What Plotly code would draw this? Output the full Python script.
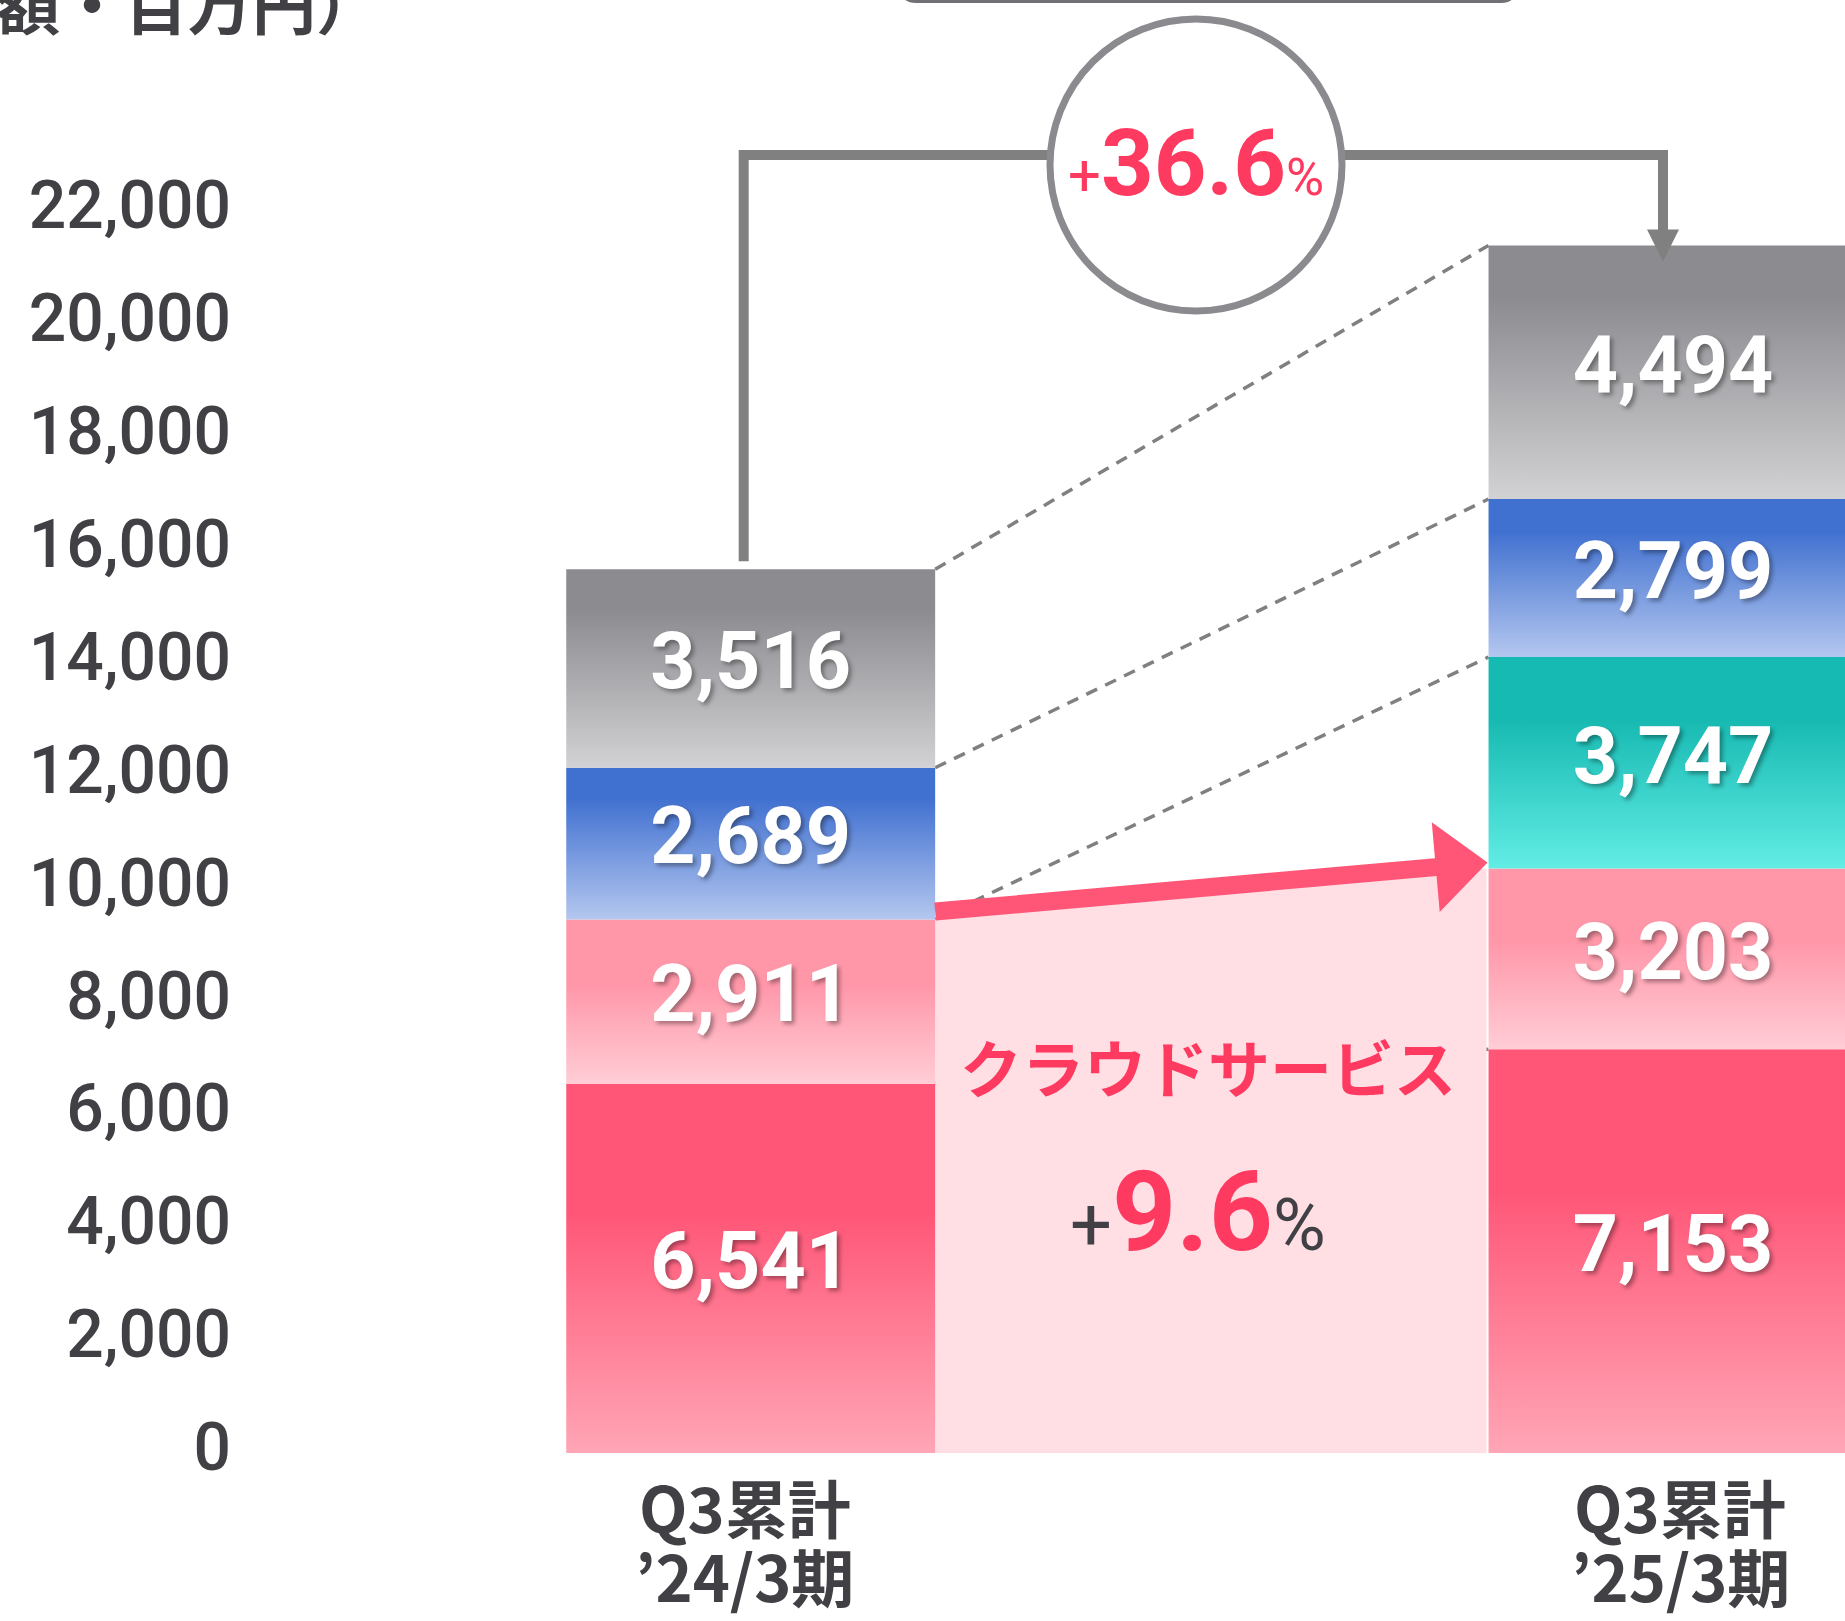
import plotly.graph_objects as go

# ---- data (millions of yen) ----
categories = ["Q3累計<br>’24/3期", "Q3累計<br>’25/3期"]
cloud_main = [6541, 7153]
cloud_sub = [2911, 3203]
teal_seg = [0, 3747]
blue_seg = [2689, 2799]
gray_seg = [3516, 4494]
y_ticks = list(range(0, 22001, 2000))
total_growth = "36.6"
cloud_growth = "9.6"

# ---- layout constants (pixels) ----
W, H = 1845, 1621
X_PX0, X_PX_PER = 750.7, 922.3     # pixel of x=0, px per x unit
Y_PX0, Y_PX_PER = 1453.0, 0.05644  # pixel of y=0, px per y unit
MARGIN_L = 232
BAR_W = 0.4
LABEL_DX = [-6, 7]                  # category label offset from bar centre
DARK = "#404045"
RED = "#FF3A60"
LINE_GRAY = "#808080"


def to_x(px):
    return (px - X_PX0) / X_PX_PER


def to_y(py):
    return (Y_PX0 - py) / Y_PX_PER


def px_x(x):
    return X_PX0 + x * X_PX_PER


def px_y(y):
    return Y_PX0 - y * Y_PX_PER


stack = [
    ("cloud_main", cloud_main, [[0, "#FFA6B6"], [0.65, "#FF5677"], [1, "#FF5677"]]),
    ("cloud_sub", cloud_sub, [[0, "#FFCDD6"], [0.6, "#FF97A9"], [1, "#FF97A9"]]),
    ("teal", teal_seg, [[0, "#62EDE5"], [0.7, "#17BAB2"], [1, "#17BAB2"]]),
    ("blue", blue_seg, [[0, "#B4C7EF"], [0.8, "#4070D0"], [1, "#4070D0"]]),
    ("gray", gray_seg, [[0, "#D2D2D4"], [0.8, "#8B8B90"], [1, "#8B8B90"]]),
]

# cumulative tops per bar
tops = {}
for i in range(len(categories)):
    acc = 0
    for name, vals, _ in stack:
        acc += vals[i]
        tops[(name, i)] = acc
left_total = tops[("gray", 0)]
right_total = tops[("gray", 1)]
left_cloud = tops[("cloud_sub", 0)]
right_cloud = tops[("cloud_sub", 1)]

fig = go.Figure()

# dashed connectors between matching segment boundaries
for name, _, _ in stack:
    if name == "cloud_sub":
        continue
    fig.add_trace(go.Scatter(
        x=[BAR_W / 2, 1 - BAR_W / 2], y=[tops[(name, 0)], tops[(name, 1)]],
        mode="lines", line=dict(color=LINE_GRAY, width=3.5, dash="12px,9px"),
        hoverinfo="skip", showlegend=False,
    ))

# light pink band for cloud services
gap = 2 / X_PX_PER
fig.add_trace(go.Scatter(
    x=[BAR_W / 2, BAR_W / 2, 1 - BAR_W / 2 - gap, 1 - BAR_W / 2 - gap, BAR_W / 2],
    y=[0, left_cloud, right_cloud, 0, 0],
    mode="lines", fill="toself", fillcolor="#FFDEE4", line=dict(width=0),
    hoverinfo="skip", showlegend=False,
))

# stacked bars with vertical gradients
for i in range(len(categories)):
    base = 0
    for name, vals, cs in stack:
        v = vals[i]
        if v > 0:
            x0, x1 = i - BAR_W / 2, i + BAR_W / 2
            fig.add_trace(go.Scatter(
                x=[x0, x1, x1, x0, x0], y=[base, base, base + v, base + v, base],
                mode="lines", fill="toself", line=dict(width=0),
                fillgradient=dict(type="vertical", colorscale=cs, start=base, stop=base + v),
                hoverinfo="skip", showlegend=False,
            ))
        base += v

# segment value labels
lab_x, lab_y, lab_t = [], [], []
for i in range(len(categories)):
    base = 0
    for name, vals, _ in stack:
        v = vals[i]
        if v > 0:
            lab_x.append(i)
            lab_y.append(base + v / 2)
            lab_t.append(f"{v:,}")
        base += v
fig.add_trace(go.Scatter(
    x=lab_x, y=lab_y, text=lab_t, mode="text", textposition="middle center",
    textfont=dict(family="Roboto", size=79, color="white", weight="bold",
                  shadow="3px 3px 4px rgba(0,0,0,0.35)"),
    hoverinfo="skip", showlegend=False,
))

# red growth arrow (cloud services), built in pixel space
p0 = (px_x(BAR_W / 2), px_y(left_cloud) - 8)
p1 = (px_x(1 - BAR_W / 2) - 1, px_y(right_cloud) - 6)
ln = ((p1[0] - p0[0]) ** 2 + (p1[1] - p0[1]) ** 2) ** 0.5
d = ((p1[0] - p0[0]) / ln, (p1[1] - p0[1]) / ln)
n = (-d[1], d[0])
b = (p1[0] - 52 * d[0], p1[1] - 52 * d[1])
pts = [
    (p0[0] + 9 * n[0], p0[1] + 9 * n[1]),
    (b[0] + 9 * n[0], b[1] + 9 * n[1]),
    (b[0] + 45 * n[0], b[1] + 45 * n[1]),
    p1,
    (b[0] - 45 * n[0], b[1] - 45 * n[1]),
    (b[0] - 9 * n[0], b[1] - 9 * n[1]),
    (p0[0] - 9 * n[0], p0[1] - 9 * n[1]),
]
pts.append(pts[0])
fig.add_trace(go.Scatter(
    x=[to_x(p[0]) for p in pts], y=[to_y(p[1]) for p in pts],
    mode="lines", fill="toself", fillcolor="#FF5577", line=dict(width=0),
    hoverinfo="skip", showlegend=False,
))

# total growth bracket
bl_x = px_x(0) - 7
br_x = px_x(1) - 10
br_y = 155
fig.add_trace(go.Scatter(
    x=[to_x(bl_x), to_x(bl_x), to_x(br_x), to_x(br_x)],
    y=[to_y(px_y(left_total) - 8), to_y(br_y), to_y(br_y), to_y(232)],
    mode="lines", line=dict(color=LINE_GRAY, width=10),
    hoverinfo="skip", showlegend=False,
))
head_tip = px_y(right_total) + 16
fig.add_trace(go.Scatter(
    x=[to_x(br_x - 16), to_x(br_x + 16), to_x(br_x), to_x(br_x - 16)],
    y=[to_y(head_tip - 32), to_y(head_tip - 32), to_y(head_tip), to_y(head_tip - 32)],
    mode="lines", fill="toself", fillcolor=LINE_GRAY, line=dict(width=0),
    hoverinfo="skip", showlegend=False,
))

# circle badge
cx, cy = to_x(1196), to_y(165)
fig.add_shape(type="circle", xref="x", yref="y", xsizemode="pixel", ysizemode="pixel",
              xanchor=cx, yanchor=cy, x0=-146, x1=146, y0=-146, y1=146,
              line=dict(color="#8A8A8F", width=7), fillcolor="white")

# bottom edge of a box cut off at the top
bx0, bx1, bb, r = 902, 1515, 1.5, 14
fig.add_shape(
    type="path", xref="x", yref="y",
    path=(f"M {to_x(bx0)},{to_y(-40)} L {to_x(bx0)},{to_y(bb - r)} "
          f"Q {to_x(bx0)},{to_y(bb)} {to_x(bx0 + r)},{to_y(bb)} "
          f"L {to_x(bx1 - r)},{to_y(bb)} Q {to_x(bx1)},{to_y(bb)} {to_x(bx1)},{to_y(bb - r)} "
          f"L {to_x(bx1)},{to_y(-40)}"),
    line=dict(color="#707075", width=3),
)

fig.add_annotation(
    x=cx, y=to_y(163), xref="x", yref="y", showarrow=False, xanchor="center", yanchor="middle",
    text=(f'<span style="font-size:58px;font-weight:400">+</span>'
          f'<span style="font-size:92px">{total_growth}</span>'
          f'<span style="font-size:52px;font-weight:400">%</span>'),
    font=dict(family="Roboto", color=RED, weight="bold", size=92),
)
fig.add_annotation(
    x=to_x(1208), y=to_y(1066), xref="x", yref="y", showarrow=False,
    text="クラウドサービス",
    font=dict(family="Noto Sans CJK JP", color=RED, weight="bold", size=62),
)
fig.add_annotation(
    x=to_x(1198), y=to_y(1211), xref="x", yref="y", showarrow=False,
    text=(f'<span style="font-size:74px;font-weight:400;fill:{DARK}">+</span>'
          f'<span style="font-size:112px">{cloud_growth}</span>'
          f'<span style="font-size:72px;font-weight:400;fill:{DARK}">%</span>'),
    font=dict(family="Roboto", color=RED, weight="bold", size=112),
)
fig.add_annotation(
    x=0, y=1, xref="paper", yref="paper", xshift=382 - MARGIN_L, yshift=-1,
    xanchor="right", yanchor="middle", showarrow=False,
    text="額・百万円）",
    font=dict(family="Noto Sans CJK JP", color=DARK, weight="bold", size=64),
)

# category labels, two lines under each bar (paper coords below the plot area)
for i, cat in enumerate(categories):
    for line_text, py in zip(cat.split("<br>"), [1506, 1574]):
        fig.add_annotation(
            x=to_x(px_x(i) + LABEL_DX[i]), xref="x",
            y=(Y_PX0 - py) / Y_PX0, yref="paper",
            showarrow=False, xanchor="center", yanchor="middle", text=line_text,
            font=dict(family="Noto Sans CJK JP", size=63, color=DARK, weight="bold"),
        )

fig.update_layout(
    width=W, height=H,
    margin=dict(l=MARGIN_L, r=0, t=0, b=int(H - Y_PX0)),
    paper_bgcolor="white", plot_bgcolor="white",
    showlegend=False,
    xaxis=dict(
        range=[to_x(MARGIN_L), to_x(W)], showticklabels=False,
        showgrid=False, zeroline=False, showline=False, ticks="",
    ),
    yaxis=dict(
        range=[0, to_y(0)], tickvals=y_ticks, tickformat=",",
        showgrid=False, zeroline=False, showline=False, ticks="", ticklabelshift=-6,
        tickfont=dict(family="Roboto", size=66, color=DARK, weight=500),
    ),
)

fig.write_html("out.html", config={"displayModeBar": False},
               post_script="document.body.style.margin='0';")
